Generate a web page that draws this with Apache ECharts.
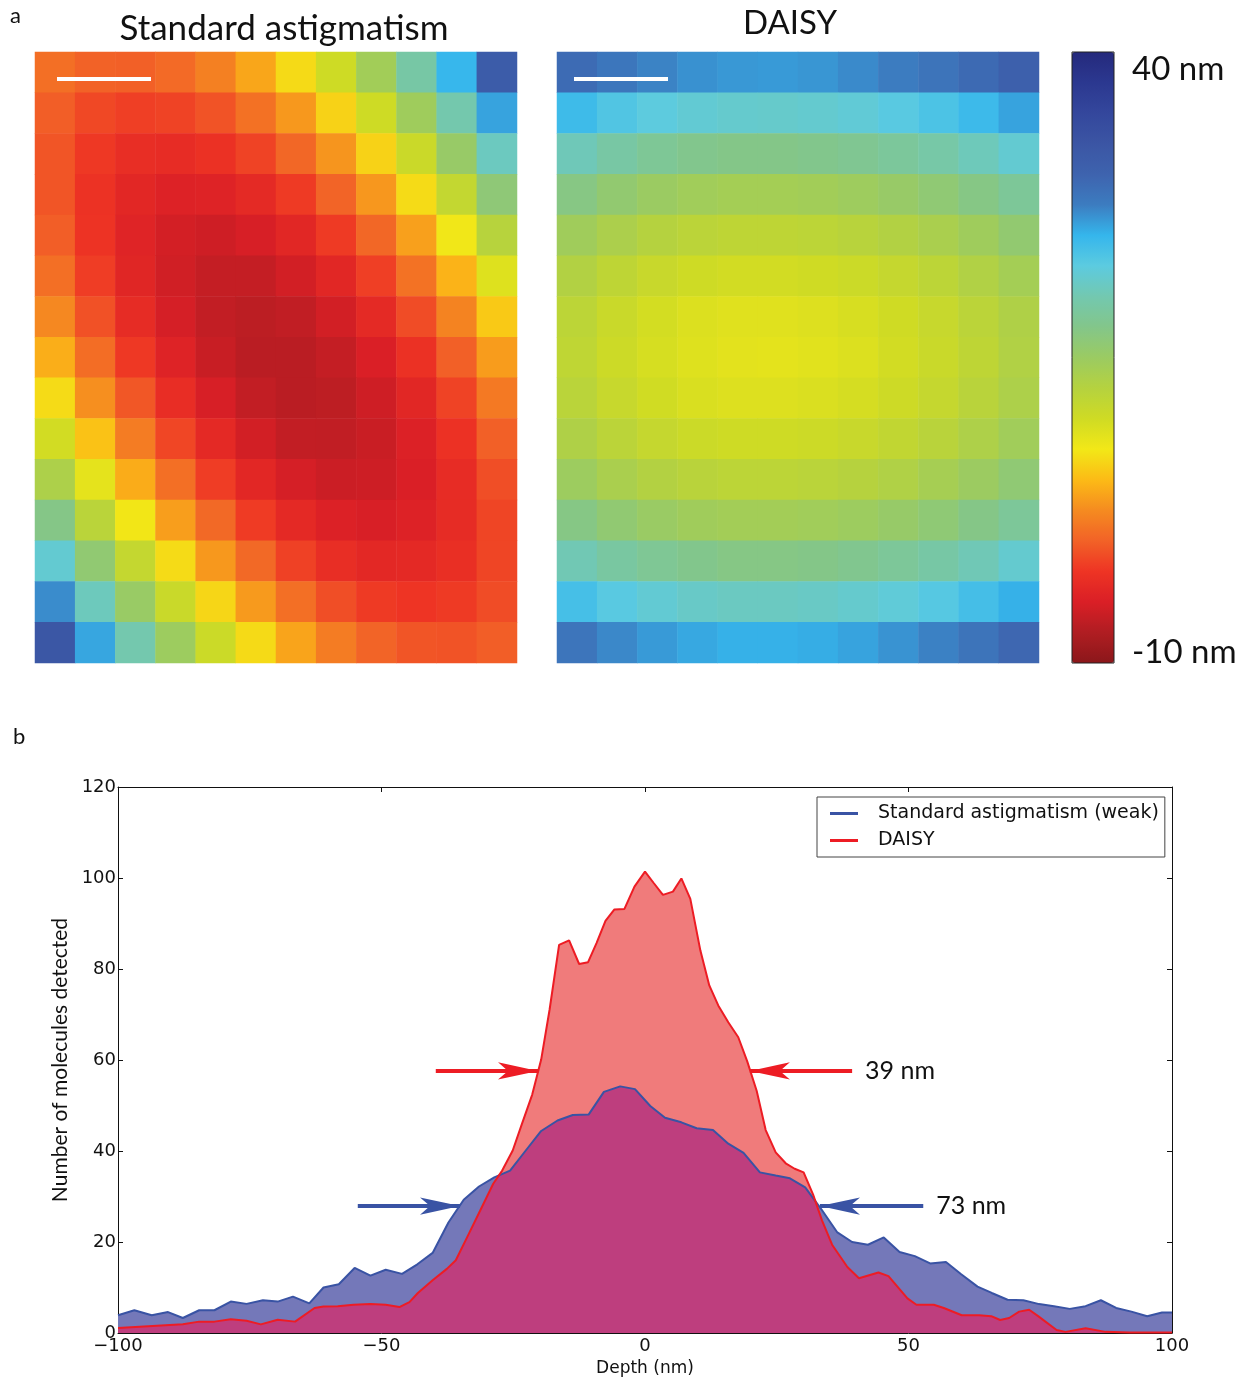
<!DOCTYPE html>
<html>
<head>
<meta charset="utf-8">
<script src="https://cdn.jsdelivr.net/npm/echarts@6/dist/echarts.min.js"></script>
<style>
  html, body { margin: 0; padding: 0; background: #fff; }
  #chart { width: 1246px; height: 1380px; }
</style>
</head>
<body>
<div id="chart"></div>
<script>
// ---- panel a: depth maps, 12 columns x 15 rows, values in nm ----
const mapCols = [0, 1, 2, 3, 4, 5, 6, 7, 8, 9, 10, 11];
const mapRows = [0, 1, 2, 3, 4, 5, 6, 7, 8, 9, 10, 11, 12, 13, 14];

const astigmatismMap = [
  [0.8, 0.0, -0.1, 0.5, 1.8, 3.9, 6.7, 10.1, 14.3, 19.3, 24.9, 31.3],
  [-0.2, -1.4, -1.9, -1.7, -0.8, 0.9, 3.2, 6.3, 10.1, 14.6, 19.8, 25.8],
  [-0.7, -2.3, -3.2, -3.4, -2.9, -1.7, 0.3, 3.0, 6.3, 10.5, 15.3, 20.8],
  [-0.7, -2.7, -4.0, -4.6, -4.5, -3.7, -2.2, 0.1, 3.1, 6.8, 11.2, 16.3],
  [-0.2, -2.6, -4.4, -5.4, -5.7, -5.2, -4.1, -2.2, 0.3, 3.6, 7.6, 12.3],
  [0.8, -2.0, -4.2, -5.6, -6.3, -6.3, -5.5, -4.1, -1.9, 1.0, 4.6, 8.9],
  [2.3, -0.9, -3.5, -5.3, -6.4, -6.8, -6.5, -5.5, -3.7, -1.2, 2.0, 5.8],
  [4.3, 0.7, -2.3, -4.5, -6.1, -6.9, -6.9, -6.3, -5.0, -2.9, -0.1, 3.4],
  [6.8, 2.7, -0.6, -3.3, -5.2, -6.4, -6.9, -6.7, -5.7, -4.1, -1.7, 1.4],
  [9.8, 5.4, 1.6, -1.5, -3.8, -5.5, -6.4, -6.5, -6.0, -4.8, -2.8, -0.1],
  [13.3, 8.4, 4.2, 0.8, -2.0, -4.0, -5.3, -5.9, -5.8, -5.0, -3.4, -1.1],
  [17.3, 12.0, 7.4, 3.5, 0.4, -2.1, -3.8, -4.8, -5.1, -4.6, -3.5, -1.6],
  [21.7, 16.0, 11.1, 6.8, 3.2, 0.4, -1.8, -3.2, -3.9, -3.8, -3.1, -1.6],
  [26.8, 20.6, 15.2, 10.6, 6.5, 3.3, 0.8, -1.1, -2.2, -2.5, -2.2, -1.2],
  [32.2, 25.7, 19.9, 14.8, 10.4, 6.7, 3.8, 1.6, 0.1, -0.7, -0.8, -0.2]
];

const daisyMap = [
  [29.2, 28.1, 27.2, 26.6, 26.3, 26.2, 26.4, 26.9, 27.5, 28.3, 29.3, 30.6],
  [24.4, 23.2, 22.4, 21.8, 21.5, 21.4, 21.6, 22.0, 22.7, 23.5, 24.5, 25.8],
  [20.4, 19.2, 18.3, 17.7, 17.4, 17.4, 17.6, 18.0, 18.6, 19.4, 20.5, 21.7],
  [17.1, 15.9, 15.0, 14.4, 14.1, 14.1, 14.3, 14.7, 15.3, 16.1, 17.2, 18.4],
  [14.5, 13.4, 12.5, 11.9, 11.6, 11.6, 11.8, 12.2, 12.8, 13.6, 14.6, 15.9],
  [12.8, 11.6, 10.7, 10.1, 9.8, 9.8, 10.0, 10.4, 11.0, 11.8, 12.9, 14.1],
  [11.8, 10.6, 9.7, 9.1, 8.8, 8.8, 9.0, 9.4, 10.0, 10.8, 11.9, 13.1],
  [11.5, 10.3, 9.5, 8.9, 8.6, 8.5, 8.7, 9.1, 9.8, 10.6, 11.6, 12.9],
  [12.0, 10.8, 9.9, 9.3, 9.0, 9.0, 9.2, 9.6, 10.2, 11.0, 12.1, 13.3],
  [13.1, 11.9, 11.0, 10.4, 10.1, 10.1, 10.3, 10.7, 11.3, 12.1, 13.2, 14.4],
  [14.8, 13.6, 12.7, 12.1, 11.8, 11.8, 12.0, 12.4, 13.0, 13.9, 14.9, 16.1],
  [17.2, 16.0, 15.1, 14.5, 14.2, 14.2, 14.4, 14.8, 15.4, 16.2, 17.3, 18.5],
  [20.2, 19.0, 18.2, 17.6, 17.2, 17.2, 17.4, 17.8, 18.5, 19.3, 20.3, 21.6],
  [23.9, 22.7, 21.8, 21.2, 20.9, 20.9, 21.1, 21.5, 22.1, 22.9, 24.0, 25.2],
  [28.2, 27.0, 26.2, 25.6, 25.2, 25.2, 25.4, 25.8, 26.5, 27.3, 28.3, 29.6]
];

const depthRange = [-10, 40];

// ---- panel b: histograms of detected depth ----
const astigDepth = [-100, -96.9, -93.6, -90.5, -87.7, -84.6, -81.7, -78.6, -75.6, -72.5, -69.7, -66.8,
  -63.7, -61.0, -58.1, -55.1, -52.1, -49.2, -46.1, -43.2, -40.3, -37.3, -34.4, -31.5, -28.6, -25.6,
  -22.7, -19.7, -16.6, -13.7, -10.7, -7.8, -4.7, -1.9, 1.0, 3.8, 6.9, 9.8, 12.9, 15.8, 18.7, 21.8,
  24.8, 27.5, 30.4, 33.4, 36.5, 39.3, 42.3, 45.3, 48.3, 51.2, 54.1, 57.1, 60.0, 63.1, 65.8, 68.8,
  71.8, 74.8, 77.6, 80.6, 83.6, 86.5, 89.4, 92.3, 95.3, 98.1, 100];
const astigCount = [3.9, 5.0, 3.9, 4.6, 3.3, 5.0, 5.0, 6.9, 6.4, 7.2, 6.9, 8.0,
  6.5, 10.0, 10.7, 14.3, 12.6, 13.9, 13.0, 15.1, 17.6, 24.3, 29.3, 32.2, 34.2, 35.7,
  40.0, 44.4, 46.7, 47.9, 48.0, 53.0, 54.2, 53.6, 49.9, 47.3, 46.3, 45.0, 44.6, 41.6, 39.6, 35.3,
  34.6, 34.0, 32.0, 27.3, 22.1, 20.0, 19.4, 21.0, 17.8, 16.9, 15.3, 15.6, 12.9, 10.2, 8.8, 7.3,
  7.2, 6.35, 5.9, 5.3, 5.9, 7.2, 5.5, 4.7, 3.7, 4.5, 4.5];

const daisyDepth = [-100, -87.7, -84.6, -81.7, -78.6, -75.6, -72.9, -69.7, -66.4, -62.7, -61.0, -58.3,
  -55.3, -52.1, -49.2, -46.6, -44.7, -43.1, -40.3, -37.6, -35.9, -33.6, -31.2, -28.8, -27.1, -25.1,
  -23.4, -21.4, -19.7, -18.1, -16.3, -14.4, -12.5, -10.8, -9.2, -7.5, -5.8, -3.9, -2.0, 0, 1.65,
  3.4, 5.3, 6.9, 8.6, 10.5, 12.2, 13.9, 15.8, 17.7, 19.4, 21.2, 22.9, 24.8, 26.7, 28.4, 30.1,
  31.9, 33.6, 35.5, 38.4, 40.6, 44.3, 46.2, 49.8, 51.5, 54.8, 56.7, 60.1, 63.4, 65.7, 67.4, 69.1,
  71.0, 72.9, 74.6, 78.1, 79.8, 83.6, 87.4, 91.9, 100];
const daisyCount = [1.1, 1.9, 2.5, 2.5, 3.0, 2.7, 1.9, 2.9, 2.5, 5.5, 5.8, 5.9,
  6.2, 6.35, 6.2, 5.7, 6.8, 8.8, 11.6, 14.1, 16.0, 21.4, 27.1, 32.8, 35.7, 40.1,
  45.8, 52.4, 60.1, 71.1, 85.3, 86.3, 81.1, 81.5, 85.7, 90.6, 93.1, 93.2, 98.1, 101.4, 98.9,
  96.3, 97.0, 99.9, 95.4, 84.1, 76.4, 72.0, 68.3, 65.0, 59.7, 53.2, 44.6, 39.7, 37.3, 36.1, 35.3,
  30.4, 24.7, 19.4, 14.5, 12.05, 13.3, 12.5, 7.6, 6.2, 6.2, 5.5, 3.9, 3.9, 3.7, 2.85, 3.3,
  4.7, 5.1, 3.7, 0.65, 0.25, 1.06, 0.25, 0.1, 0.1];

// FWHM arrows: level, tail and tip (nm)
const arrowLevels = [57.6, 57.6, 27.9, 27.9];
const arrowTails = [-39.7, 39.3, -54.5, 52.8];
const arrowTips = [-20.3, 19.9, -35.1, 33.2];
const arrowLabels = ['', '39 nm', '', '73 nm'];

const BLUE = '#3953a4';
const RED = '#ed1c24';

const toCells = (rows) => {
  const out = [];
  rows.forEach((row, j) => row.forEach((v, i) => out.push([mapCols[i], mapRows[j], v])));
  return out;
};
const pairs = (xs, ys) => xs.map((x, i) => [x, ys[i]]);
const minus = (v) => (v < 0 ? '\u2212' + Math.abs(v) : String(v));

const chart = echarts.init(document.getElementById('chart'));

const arrowData = arrowLevels.map((lvl, k) => {
  const color = k < 2 ? RED : BLUE;
  return [
    {
      coord: [arrowTails[k], lvl],
      lineStyle: { color: color, width: 4, type: 'solid' },
      itemStyle: { color: color },
      label: {
        show: arrowLabels[k] !== '',
        position: 'start',
        formatter: arrowLabels[k],
        distance: 13,
        color: '#111',
        fontFamily: 'Lato',
        fontSize: 25
      }
    },
    { coord: [arrowTips[k], lvl] }
  ];
});

const tickFont = { fontFamily: 'DejaVu Sans', fontSize: 18, color: '#111' };
const frameLine = { onZero: false, lineStyle: { color: '#111', width: 1 } };
const frameTick = { inside: true, length: 5, lineStyle: { color: '#111' } };

const option = {
  backgroundColor: '#fff',
  animation: false,
  visualMap: {
    type: 'continuous',
    seriesIndex: [0, 1],
    min: depthRange[0],
    max: depthRange[1],
    calculable: false,
    orient: 'vertical',
    left: 1072,
    top: 52,
    padding: 0,
    itemWidth: 42,
    itemHeight: 611,
    text: null,
    showLabel: false,
    inRange: {
      color: ['#8b171a', '#b01d22', '#da1f26', '#ee3424', '#f26227', '#f58b20', '#fcbb16',
        '#f2e817', '#cfdb24', '#b5d23f', '#9bcb62', '#83c68a', '#73c8b0', '#5ccbe0',
        '#35b6ec', '#3c7cc0', '#3e63ae', '#3b55a4', '#34479c', '#2b3890', '#25297c']
    }
  },
  legend: {
    data: ['Standard astigmatism (weak)', 'DAISY'],
    orient: 'vertical',
    left: 817,
    top: 797,
    padding: [6, 6, 6, 13],
    itemWidth: 28,
    itemHeight: 3,
    itemGap: 6,
    icon: 'rect',
    borderColor: '#444',
    borderWidth: 1,
    borderRadius: 0,
    selectedMode: false,
    textStyle: { fontFamily: 'DejaVu Sans', fontSize: 19, color: '#111', lineHeight: 21, padding: [0, 0, 0, 15] }
  },
  grid: [
    { left: 35, top: 52, width: 482, height: 611 },
    { left: 557, top: 52, width: 482, height: 611 },
    { left: 118, top: 787, width: 1054, height: 546 }
  ],
  xAxis: [
    { type: 'category', gridIndex: 0, data: mapCols, show: false },
    { type: 'category', gridIndex: 1, data: mapCols, show: false },
    {
      type: 'value', gridIndex: 2, min: -100, max: 100, interval: 50, position: 'bottom',
      name: 'Depth (nm)', nameLocation: 'middle', nameGap: 27,
      nameTextStyle: { fontFamily: 'DejaVu Sans', fontSize: 17, color: '#111' },
      axisLine: frameLine,
      axisTick: frameTick,
      axisLabel: Object.assign({ margin: 4, formatter: minus }, tickFont),
      splitLine: { show: false }
    },
    {
      type: 'value', gridIndex: 2, min: -100, max: 100, interval: 50, position: 'top',
      axisLine: frameLine,
      axisTick: frameTick,
      axisLabel: { show: false },
      splitLine: { show: false }
    }
  ],
  yAxis: [
    { type: 'category', gridIndex: 0, data: mapRows, inverse: true, show: false },
    { type: 'category', gridIndex: 1, data: mapRows, inverse: true, show: false },
    {
      type: 'value', gridIndex: 2, min: 0, max: 120, interval: 20, position: 'left',
      name: 'Number of molecules detected', nameLocation: 'middle', nameGap: 38,
      nameTextStyle: { fontFamily: 'Lato', fontSize: 21, color: '#111' },
      axisLine: frameLine,
      axisTick: frameTick,
      axisLabel: Object.assign({ margin: 2 }, tickFont),
      splitLine: { show: false }
    },
    {
      type: 'value', gridIndex: 2, min: 0, max: 120, interval: 20, position: 'right',
      axisLine: frameLine,
      axisTick: frameTick,
      axisLabel: { show: false },
      splitLine: { show: false }
    }
  ],
  series: [
    {
      type: 'heatmap', name: 'Standard astigmatism map', xAxisIndex: 0, yAxisIndex: 0,
      data: toCells(astigmatismMap), itemStyle: { borderWidth: 0 }, emphasis: { disabled: true }
    },
    {
      type: 'heatmap', name: 'DAISY map', xAxisIndex: 1, yAxisIndex: 1,
      data: toCells(daisyMap), itemStyle: { borderWidth: 0 }, emphasis: { disabled: true }
    },
    // base layer under the astigmatism histogram
    {
      type: 'line', name: 'astig base', xAxisIndex: 2, yAxisIndex: 2, z: 2, silent: true,
      data: pairs(astigDepth, astigCount), showSymbol: false,
      lineStyle: { opacity: 0 }, areaStyle: { color: 'rgb(24,196,199)', opacity: 1 }
    },
    // DAISY fill
    {
      type: 'line', name: 'daisy fill', xAxisIndex: 2, yAxisIndex: 2, z: 3, silent: true,
      data: pairs(daisyDepth, daisyCount), showSymbol: false,
      lineStyle: { opacity: 0 }, areaStyle: { color: 'rgb(230,35,35)', opacity: 0.6 }
    },
    {
      type: 'line', name: 'Standard astigmatism (weak)', xAxisIndex: 2, yAxisIndex: 2, z: 4,
      color: BLUE, data: pairs(astigDepth, astigCount), showSymbol: false,
      lineStyle: { color: BLUE, width: 2 }, areaStyle: { color: 'rgb(255,8,164)', opacity: 0.4 }
    },
    {
      type: 'line', name: 'DAISY', xAxisIndex: 2, yAxisIndex: 2, z: 5,
      color: RED, data: pairs(daisyDepth, daisyCount), showSymbol: false,
      lineStyle: { color: RED, width: 2 },
      markLine: {
        silent: true,
        symbol: ['none', 'arrow'],
        symbolSize: [13, 40],
        animation: false,
        data: arrowData
      }
    }
  ],
  graphic: [
    { type: 'text', x: 10, y: 16, z: 100, style: { text: 'a', font: '22px Lato', fill: '#111', textAlign: 'left', textVerticalAlign: 'middle', align: 'left', verticalAlign: 'middle' } },
    { type: 'text', x: 13, y: 737, z: 100, style: { text: 'b', font: '22px Lato', fill: '#111', textAlign: 'left', textVerticalAlign: 'middle', align: 'left', verticalAlign: 'middle' } },
    { type: 'text', x: 284, y: 29, z: 100, style: { text: 'Standard astigmatism', font: '35px Lato', fill: '#111', textAlign: 'center', textVerticalAlign: 'middle', align: 'center', verticalAlign: 'middle' } },
    { type: 'text', x: 790, y: 23, z: 100, style: { text: 'DAISY', font: '33px Lato', fill: '#111', textAlign: 'center', textVerticalAlign: 'middle', align: 'center', verticalAlign: 'middle' } },
    { type: 'text', x: 1132, y: 69, z: 100, style: { text: '40 nm', font: '33px Lato', fill: '#111', textAlign: 'left', textVerticalAlign: 'middle', align: 'left', verticalAlign: 'middle' } },
    { type: 'text', x: 1132, y: 652, z: 100, style: { text: '-10 nm', font: '33px Lato', fill: '#111', textAlign: 'left', textVerticalAlign: 'middle', align: 'left', verticalAlign: 'middle' } },
    { type: 'rect', z: 100, shape: { x: 1072, y: 52, width: 42, height: 611 }, style: { fill: 'none', stroke: '#222', lineWidth: 1 } },
    { type: 'rect', z: 100, shape: { x: 57, y: 77, width: 94, height: 4 }, style: { fill: '#fff' } },
    { type: 'rect', z: 100, shape: { x: 574, y: 77, width: 94, height: 4 }, style: { fill: '#fff' } }
  ]
};

chart.setOption(option);
</script>
</body>
</html>
